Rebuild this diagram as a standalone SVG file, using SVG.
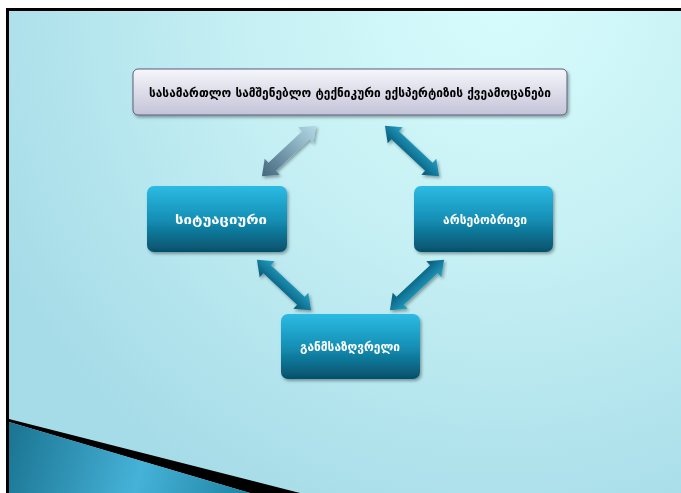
<svg xmlns="http://www.w3.org/2000/svg" width="681" height="493" viewBox="0 0 681 493">
  <style>
    .title { font-family: "DejaVu Sans", "Noto Sans", sans-serif; font-weight: bold; font-size: 13px; fill: #000; }
    .label { font-family: "DejaVu Sans", "Noto Sans", sans-serif; font-weight: bold; font-size: 12px; fill: #fff; }
    .node { fill: url(#nodeFill); filter: url(#shadow); }
  </style>
  <defs>
    <radialGradient id="bgFill" cx="500" cy="0" r="560" gradientUnits="userSpaceOnUse">
      <stop offset="0" stop-color="#d8fcfd"/>
      <stop offset="0.45" stop-color="#c6f0f4"/>
      <stop offset="1" stop-color="#a6dce8"/>
    </radialGradient>
    <linearGradient id="nodeFill" x1="0" y1="0" x2="0" y2="1">
      <stop offset="0" stop-color="#2cbbe4"/>
      <stop offset="0.5" stop-color="#1590b6"/>
      <stop offset="1" stop-color="#05506a"/>
    </linearGradient>
    <linearGradient id="titleFill" x1="0" y1="0" x2="0" y2="1">
      <stop offset="0" stop-color="#f6f6fb"/>
      <stop offset="1" stop-color="#c3c3d8"/>
    </linearGradient>
    <linearGradient id="arrowTeal" x1="0" y1="-12" x2="0" y2="12" gradientUnits="userSpaceOnUse">
      <stop offset="0" stop-color="#2aa6c8"/>
      <stop offset="0.5" stop-color="#137c9e"/>
      <stop offset="1" stop-color="#0a5470"/>
    </linearGradient>
    <linearGradient id="arrowFade" x1="-37" y1="0" x2="37" y2="0" gradientUnits="userSpaceOnUse">
      <stop offset="0" stop-color="#b4dae8"/>
      <stop offset="1" stop-color="#44677c"/>
    </linearGradient>
    <linearGradient id="wedgeFill" x1="0" y1="420" x2="260" y2="493" gradientUnits="userSpaceOnUse">
      <stop offset="0" stop-color="#176f8c"/>
      <stop offset="0.55" stop-color="#46b2d8"/>
      <stop offset="1" stop-color="#1b7f9e"/>
    </linearGradient>
    <filter id="shadow" x="-20%" y="-20%" width="140%" height="150%">
      <feDropShadow dx="1.5" dy="2" stdDeviation="1.8" flood-color="#000" flood-opacity="0.35"/>
    </filter>
    <!-- double-headed arrow along the x axis, centred on the origin -->
    <path id="dblArrow" d="M -37 0 L -23 -11 L -23 -5.5 L 23 -5.5 L 23 -11 L 37 0 L 23 11 L 23 5.5 L -23 5.5 L -23 11 Z"/>
  </defs>

  <!-- page background and frame -->
  <rect x="0" y="0" width="681" height="493" fill="#ffffff"/>
  <rect x="9" y="10" width="672" height="483" fill="url(#bgFill)"/>
  <polygon points="9,419 300,493 250,493 9,422" fill="#000000"/>
  <polygon points="9,422 250,493 9,493" fill="url(#wedgeFill)"/>
  <rect x="6" y="8" width="675" height="3" fill="#000000"/>
  <rect x="6" y="8" width="3" height="485" fill="#000000"/>

  <!-- connectors -->
  <g id="connectors" filter="url(#shadow)">
    <use href="#dblArrow" fill="url(#arrowFade)" transform="translate(289,151) rotate(137)"/>
    <use href="#dblArrow" fill="url(#arrowTeal)" transform="translate(412,151) rotate(43)"/>
    <use href="#dblArrow" fill="url(#arrowTeal)" transform="translate(284,285) rotate(43)"/>
    <use href="#dblArrow" fill="url(#arrowTeal)" transform="translate(417,285) rotate(137)"/>
  </g>

  <!-- nodes -->
  <g id="title">
    <rect x="133" y="69" width="434" height="46" rx="5" fill="url(#titleFill)" stroke="#5c5c7c" stroke-width="1" filter="url(#shadow)"/>
    <text class="title" x="350" y="96.5" text-anchor="middle" textLength="402" lengthAdjust="spacingAndGlyphs">სასამართლო სამშენებლო ტექნიკური ექსპერტიზის ქვეამოცანები</text>
  </g>
  <g id="situational">
    <rect class="node" x="147" y="186" width="140" height="66" rx="7"/>
    <text class="label" x="221" y="224" text-anchor="middle" textLength="92" lengthAdjust="spacingAndGlyphs">სიტუაციური</text>
  </g>
  <g id="substantive">
    <rect class="node" x="414" y="186" width="139" height="66" rx="7"/>
    <text class="label" x="485" y="224" text-anchor="middle" textLength="84" lengthAdjust="spacingAndGlyphs">არსებობრივი</text>
  </g>
  <g id="defining">
    <rect class="node" x="281" y="314" width="139" height="65" rx="7"/>
    <text class="label" x="350" y="351" text-anchor="middle" textLength="100" lengthAdjust="spacingAndGlyphs">განმსაზღვრელი</text>
  </g>
</svg>
